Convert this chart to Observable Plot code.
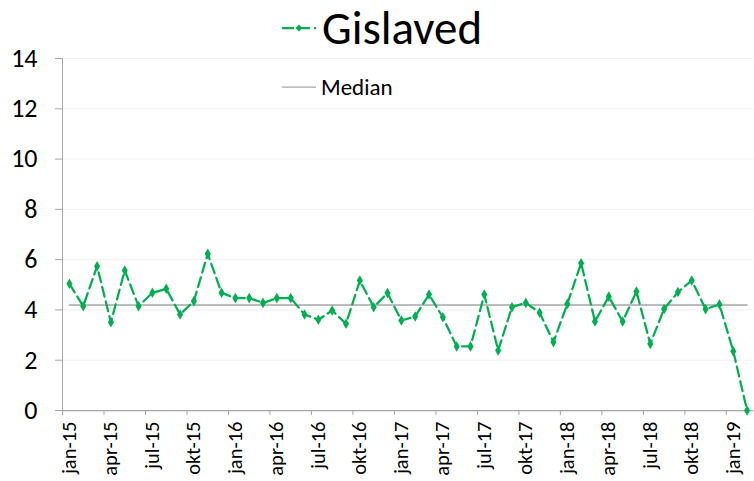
<!DOCTYPE html>
<html>
<head>
<meta charset="utf-8">
<script src="https://cdn.jsdelivr.net/npm/d3@7"></script>
<script src="https://cdn.jsdelivr.net/npm/@observablehq/plot@0.6"></script>
<style>
  html, body { margin: 0; padding: 0; background: #fff; }
  #wrap { position: relative; width: 754px; height: 481px; font-family: Carlito, Calibri, "Liberation Sans", Arial, sans-serif; }
  #title { position: absolute; left: 280px; top: 2px; height: 52px; display: flex; align-items: center; font-size: 47px; color: #000; white-space: nowrap; }
  #title svg { margin-right: 5px; }
  #median { position: absolute; left: 282px; top: 73px; height: 28px; display: flex; align-items: center; font-size: 23px; color: #000; white-space: nowrap; }
  #median svg { margin-right: 5px; }
</style>
</head>
<body>
<div id="wrap">
  <div id="chart"></div>
  <div id="title"><svg width="37" height="10"><line x1="2" y1="5" x2="36" y2="5" stroke="#00b050" stroke-width="2.25" stroke-dasharray="12,4"/><path d="M19,1.5 L22.5,5 L19,8.5 L15.5,5 Z" fill="#00b050"/></svg>Gislaved</div>
  <div id="median"><svg width="34" height="6"><line x1="0" y1="3" x2="34" y2="3" stroke="#a6a6a6" stroke-width="1.25"/></svg>Median</div>
</div>
<script>
const months = ["jan-15","feb-15","mar-15","apr-15","maj-15","jun-15","jul-15","aug-15","sep-15","okt-15","nov-15","dec-15",
  "jan-16","feb-16","mar-16","apr-16","maj-16","jun-16","jul-16","aug-16","sep-16","okt-16","nov-16","dec-16",
  "jan-17","feb-17","mar-17","apr-17","maj-17","jun-17","jul-17","aug-17","sep-17","okt-17","nov-17","dec-17",
  "jan-18","feb-18","mar-18","apr-18","maj-18","jun-18","jul-18","aug-18","sep-18","okt-18","nov-18","dec-18",
  "jan-19","feb-19"];
const values = [5.04,4.15,5.74,3.51,5.57,4.15,4.68,4.84,3.82,4.35,6.23,4.68,
  4.47,4.47,4.28,4.47,4.47,3.82,3.61,3.98,3.45,5.17,4.11,4.67,
  3.58,3.74,4.61,3.71,2.55,2.55,4.61,2.39,4.11,4.28,3.89,2.72,
  4.24,5.86,3.54,4.53,3.54,4.73,2.65,4.04,4.71,5.17,4.03,4.22,
  2.36,0];
const medianValue = 4.2;
const yTicks = [0,2,4,6,8,10,12,14];
const labelEvery = 3;

const data = months.map((m, i) => ({i, m, v: values[i]}));
const labelIdx = months.map((m, i) => i).filter(i => i % labelEvery === 0);
const boundaryIdx = labelIdx.map(i => i - 0.5);

const font = 'Carlito, Calibri, "Liberation Sans", Arial, sans-serif';
const chart = Plot.plot({
  width: 754,
  height: 481,
  marginTop: 58,
  marginBottom: 71,
  marginLeft: 62,
  marginRight: 0.5,
  style: {fontFamily: font, background: "#fff", overflow: "visible"},
  x: {type: "linear", domain: [-0.5, months.length - 0.5]},
  y: {domain: [0, 14]},
  marks: [
    Plot.gridY(yTicks.filter(d => d > 0), {stroke: "#f0f0f0", strokeOpacity: 1, strokeWidth: 1}),
    Plot.axisY(yTicks, {tickSize: 7, stroke: "#a6a6a6", tickPadding: 18, fontSize: 26, fill: "#000", label: null, tickFormat: d => String(d)}),
    Plot.ruleX([-0.5], {stroke: "#a6a6a6", strokeWidth: 1}),
    Plot.ruleY([0], {stroke: "#a6a6a6", strokeWidth: 1.25}),
    Plot.axisX(boundaryIdx, {tickSize: 5, stroke: "#a6a6a6", tickFormat: () => "", label: null}),
    Plot.axisX(labelIdx, {tickSize: 0, tickPadding: 11, tickRotate: -90, fontSize: 20.5, fill: "#000", label: null, tickFormat: i => months[i]}),
    Plot.line(data, {x: "i", y: () => medianValue, stroke: "#a6a6a6", strokeWidth: 1.5}),
    Plot.line(data, {x: "i", y: "v", stroke: "#00b050", strokeWidth: 2.25, strokeDasharray: "10,5"}),
    Plot.dot(data, {x: "i", y: "v", symbol: "diamond", r: 3.2, fill: "#00b050", stroke: "none"})
  ]
});
document.getElementById("chart").appendChild(chart);
</script>
</body>
</html>
